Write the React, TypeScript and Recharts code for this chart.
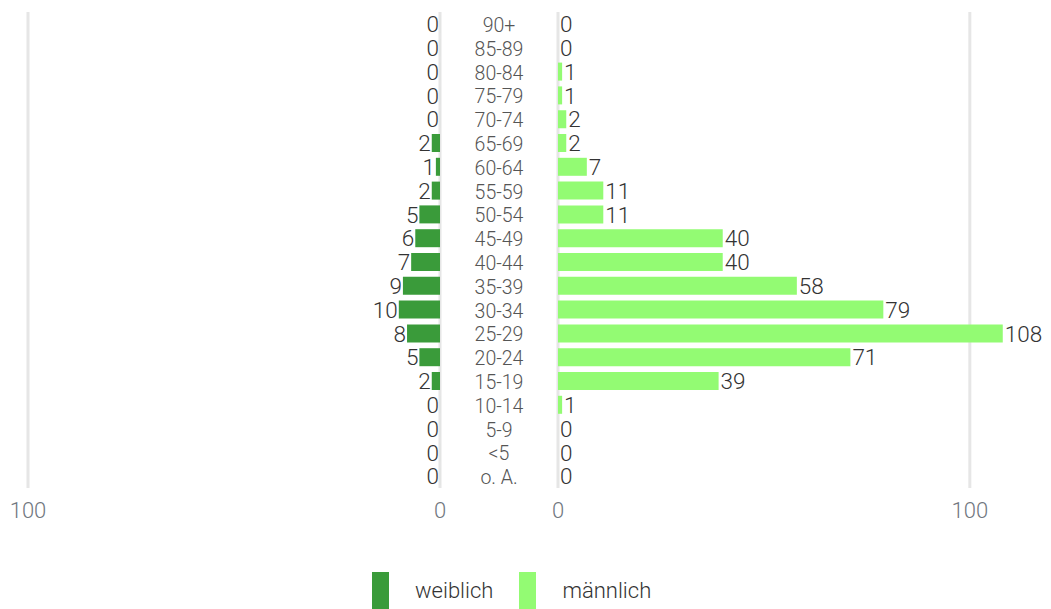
import { Bar, BarChart, CartesianGrid, LabelList, XAxis, YAxis } from "recharts";

const AGE_GROUPS = [
  "90+", "85-89", "80-84", "75-79", "70-74", "65-69", "60-64", "55-59", "50-54", "45-49",
  "40-44", "35-39", "30-34", "25-29", "20-24", "15-19", "10-14", "5-9", "<5", "o. A.",
];
const FEMALE = [0, 0, 0, 0, 0, 2, 1, 2, 5, 6, 7, 9, 10, 8, 5, 2, 0, 0, 0, 0];
const MALE = [0, 0, 1, 1, 2, 2, 7, 11, 11, 40, 40, 58, 79, 108, 71, 39, 1, 0, 0, 0];
const AXIS_TICKS = [0, 100];
const SERIES = [
  { key: "weiblich", color: "#3a9b3a" },
  { key: "männlich", color: "#93fb73" },
];

const rows = AGE_GROUPS.map((age, i) => ({ age, weiblich: FEMALE[i], männlich: MALE[i] }));

const FONT = "Roboto, sans-serif";
const CHART_H = 540;
const MARGIN_TOP = 12;
const MARGIN_BOTTOM = 12;
const X_AXIS_H = 40;
const LEFT_MAX = 100;
const RIGHT_MAX = 110;

function ValueLabel(side: "left" | "right") {
  return (props: any) => {
    const { x, y, width, height, value } = props;
    const left = Math.min(x, x + width);
    const right = Math.max(x, x + width);
    const tx = side === "left" ? left - 1 : right + 2;
    return (
      <text
        x={tx}
        y={y + height / 2}
        dy="0.36em"
        textAnchor={side === "left" ? "end" : "start"}
        fontSize={22.5}
        fontWeight={300}
        fill="#333"
        fontFamily={FONT}
      >
        {value}
      </text>
    );
  };
}

function AgeTick(props: any) {
  const { x, y, payload } = props;
  return (
    <text x={x + 59} y={y} dy="0.42em" textAnchor="middle" fontSize={19.5} fontWeight={300} fill="#555" fontFamily={FONT}>
      {payload.value}
    </text>
  );
}

// grid only at the real ticks, not at the plot edge
const gridAtTicks = (max: number, reversed: boolean) => (p: any) => {
  const { left, width } = p.offset;
  return AXIS_TICKS.map((t) => {
    const f = t / max;
    return reversed ? left + width * (1 - f) : left + width * f;
  });
};

const tickStyle = { fontSize: 22, fontWeight: 300, fill: "#717780", fontFamily: FONT };

export default function App() {
  return (
    <div style={{ position: "absolute", left: 0, top: 0, width: 1051, height: 609, overflow: "hidden", fontFamily: FONT }}>
      <div style={{ position: "absolute", left: 0, top: 0 }}>
        <BarChart
          width={558}
          height={CHART_H}
          data={rows}
          layout="vertical"
          margin={{ top: MARGIN_TOP, bottom: MARGIN_BOTTOM, left: 28, right: 0 }}
          barSize={18}
        >
          <CartesianGrid
            horizontal={false}
            stroke="#e6e6e6"
            strokeWidth={3}
            verticalCoordinatesGenerator={gridAtTicks(LEFT_MAX, true)}
          />
          <XAxis
            type="number"
            domain={[0, LEFT_MAX]}
            ticks={AXIS_TICKS}
            reversed
            interval={0}
            axisLine={false}
            tickLine={false}
            tickSize={0}
            tickMargin={14}
            height={X_AXIS_H}
            tick={tickStyle}
          />
          <YAxis
            type="category"
            dataKey="age"
            orientation="right"
            width={118}
            axisLine={false}
            tickLine={false}
            tickSize={0}
            tickMargin={0}
            interval={0}
            tick={<AgeTick />}
          />
          <Bar dataKey="weiblich" fill={SERIES[0].color} minPointSize={0.01} isAnimationActive={false}>
            <LabelList dataKey="weiblich" content={ValueLabel("left")} />
          </Bar>
        </BarChart>
      </div>
      <div style={{ position: "absolute", left: 500, top: 0 }}>
        <BarChart
          width={551}
          height={CHART_H}
          data={rows}
          layout="vertical"
          margin={{ top: MARGIN_TOP, bottom: MARGIN_BOTTOM, left: 58, right: 40 }}
          barSize={18}
        >
          <CartesianGrid
            horizontal={false}
            stroke="#e6e6e6"
            strokeWidth={3}
            verticalCoordinatesGenerator={gridAtTicks(RIGHT_MAX, false)}
          />
          <XAxis
            type="number"
            domain={[0, RIGHT_MAX]}
            ticks={AXIS_TICKS}
            interval={0}
            axisLine={false}
            tickLine={false}
            tickSize={0}
            tickMargin={14}
            height={X_AXIS_H}
            tick={tickStyle}
          />
          <YAxis type="category" dataKey="age" hide />
          <Bar dataKey="männlich" fill={SERIES[1].color} minPointSize={0.01} isAnimationActive={false}>
            <LabelList dataKey="männlich" content={ValueLabel("right")} />
          </Bar>
        </BarChart>
      </div>
      <div style={{ position: "absolute", left: 372, top: 572, display: "flex", alignItems: "flex-start" }}>
        {SERIES.map((s) => (
          <div key={s.key} style={{ display: "flex", alignItems: "flex-start", marginRight: 26 }}>
            <div style={{ width: 17, height: 40, background: s.color, marginRight: 26 }} />
            <span style={{ fontSize: 22, fontWeight: 300, color: "#333", lineHeight: "38px" }}>{s.key}</span>
          </div>
        ))}
      </div>
    </div>
  );
}
